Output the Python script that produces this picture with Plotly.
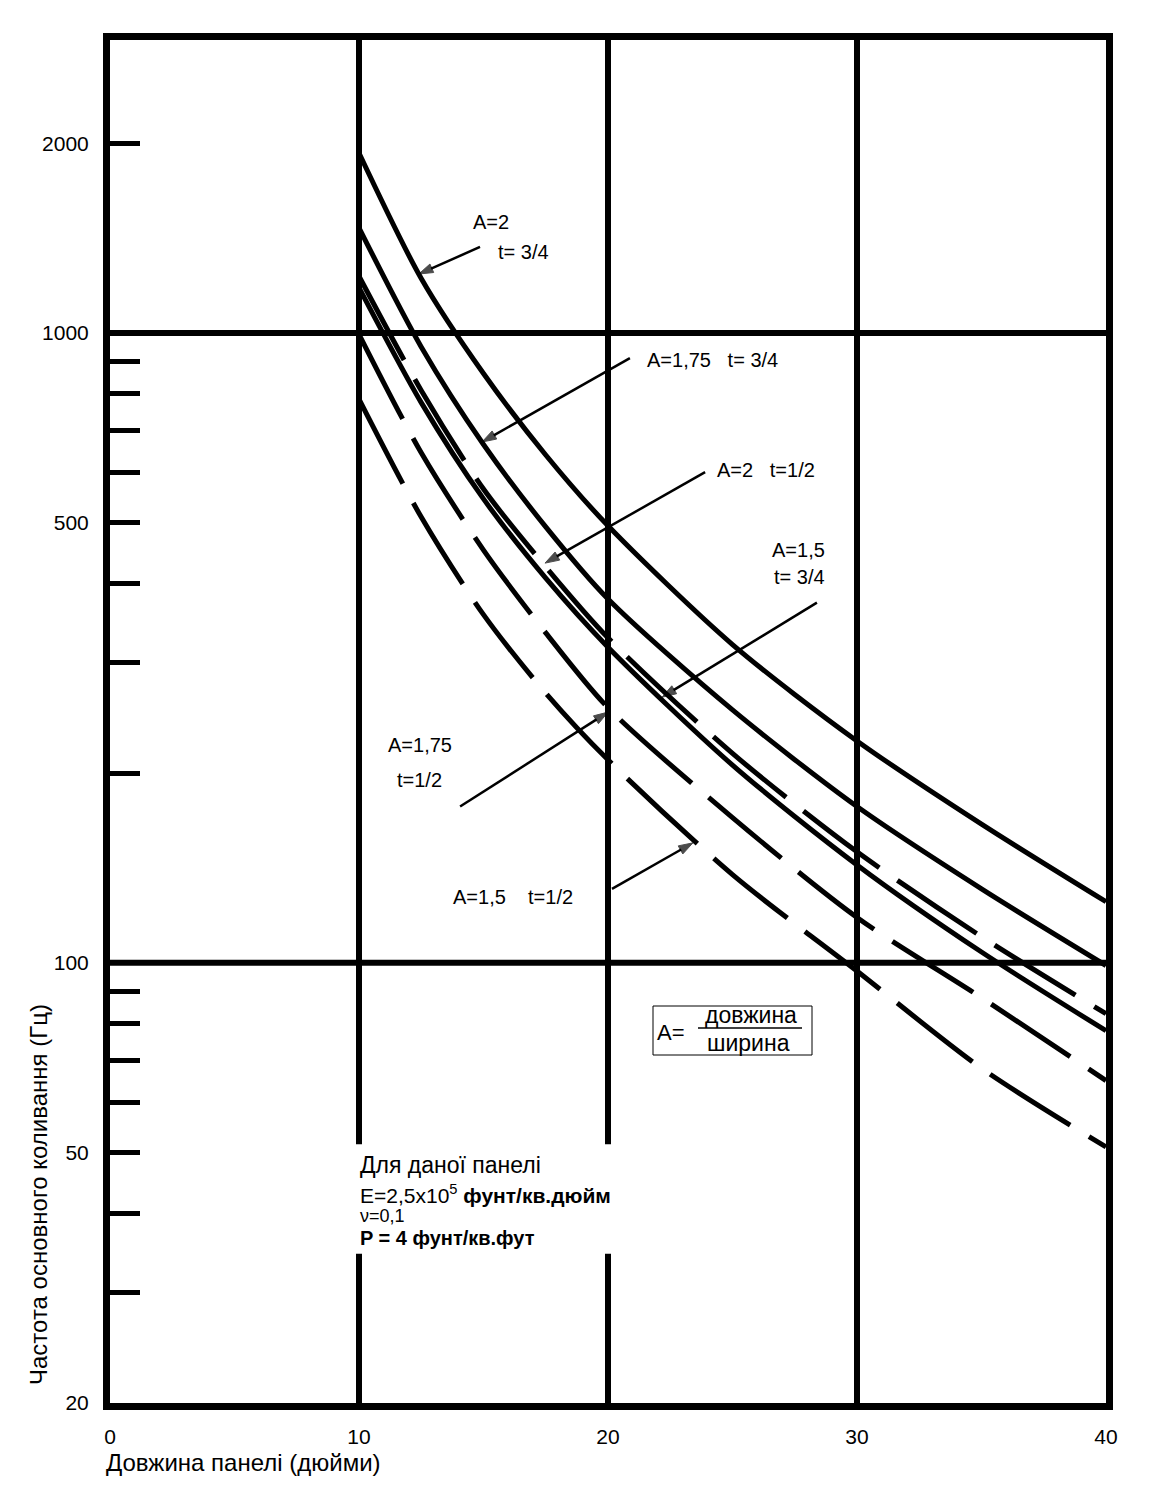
import math
import plotly.graph_objects as go

# Panel length (inches) at which each curve is read
panel_length = [10, 12.5, 15, 17.5, 20, 25, 30, 35, 40]

# Fundamental frequency (Hz) for each aspect ratio A and thickness t
freq_a2_t34 = [1930, 1220, 862, 640, 494, 320, 225, 166, 125]
freq_a175_t34 = [1468, 950, 665, 492, 378, 252, 177, 131, 99]
freq_a2_t12 = [1230, 810, 565, 425, 328, 215, 150, 110, 83]
freq_a15_t34 = [1180, 775, 545, 408, 317, 206, 143, 104, 78]
freq_a175_t12 = [995, 645, 452, 334, 254, 170, 118, 88, 65]
freq_a15_t12 = [785, 510, 357, 268, 210, 138, 97, 68, 51]

x_ticks = [0, 10, 20, 30, 40]
y_ticks = [20, 50, 100, 500, 1000, 2000]
y_minor_ticks = [30, 40, 60, 70, 80, 90, 200, 300, 400, 600, 700, 800, 900]

Y_TOP_LOG = 3.465
y_top = 10 ** Y_TOP_LOG
FONT = "Liberation Sans, Arial, Helvetica, sans-serif"

fig = go.Figure()

# Heavy grid: verticals at 10/20/30 (10 and 20 broken around the note), horizontals at 100/1000
grid_w = 6
gap_lo, gap_hi = 34.5, 51.5
for gx in (10, 20):
    fig.add_trace(go.Scatter(x=[gx, gx, None, gx, gx], y=[20, gap_lo, None, gap_hi, y_top],
                             mode="lines", line=dict(color="black", width=grid_w),
                             hoverinfo="skip"))
fig.add_trace(go.Scatter(x=[30, 30], y=[20, y_top], mode="lines",
                         line=dict(color="black", width=grid_w), hoverinfo="skip"))
for gy in (100, 1000):
    fig.add_trace(go.Scatter(x=[0, 40], y=[gy, gy], mode="lines",
                             line=dict(color="black", width=grid_w), hoverinfo="skip"))

# Frequency curves: solid for t=3/4, dashed for t=1/2
curves = [
    ("A=2, t=3/4", freq_a2_t34, "solid"),
    ("A=1,75, t=3/4", freq_a175_t34, "solid"),
    ("A=2, t=1/2", freq_a2_t12, "95px,22px"),
    ("A=1,5, t=3/4", freq_a15_t34, "solid"),
    ("A=1,75, t=1/2", freq_a175_t12, "95px,22px"),
    ("A=1,5, t=1/2", freq_a15_t12, "95px,22px"),
]
for name, vals, dash in curves:
    fig.add_trace(go.Scatter(x=panel_length, y=vals, name=name, mode="lines",
                             line=dict(color="black", width=5, dash=dash,
                                       shape="spline", smoothing=0.8)))

NB = "\u00a0"
# Curve labels: text lines as (text, x, y), then leader tail and leader tip
curve_labels = [
    ([("A=2", 14.5, 1500), ("t=" + NB + "3/4", 15.5, 1346)], (14.86, 1369), (12.4, 1240)),
    ([("A=1,75" + NB * 3 + "t=" + NB + "3/4", 21.5, 906)], (20.88, 912), (14.94, 671)),
    ([("A=2" + NB * 3 + "t=1/2", 24.3, 606)], (23.9, 601), (17.47, 431)),
    ([("A=1,5", 26.5, 452), ("t=" + NB + "3/4", 26.6, 410)], (28.39, 373), (22.17, 264)),
    ([("A=1,75", 11.1, 222), ("t=1/2", 11.45, 195)], (14.06, 177), (20.0, 250)),
    ([("A=1,5" + NB * 4 + "t=1/2", 13.7, 127)], (20.16, 131), (23.41, 155)),
]
for lines, tail, tip in curve_labels:
    for txt, tx, ty in lines:
        fig.add_annotation(x=tx, y=math.log10(ty), xref="x", yref="y", text=txt,
                           showarrow=False, xanchor="left", yanchor="middle",
                           font=dict(size=20, family=FONT, color="black"))
    # leader line from the label to its curve, with a small arrow head at the curve
    fig.add_trace(go.Scatter(x=[tail[0], tip[0]], y=[tail[1], tip[1]], mode="lines+markers",
                             line=dict(color="black", width=2.5),
                             marker=dict(symbol="arrow", angleref="previous",
                                         size=[0, 15], color="black",
                                         line=dict(color="black", width=1)),
                             hoverinfo="skip"))

# Ratio definition box
def px(xp):
    return (xp - 110) / 996


def py(yp):
    return (1403 - yp) / 1363


fig.add_shape(type="rect", xref="paper", yref="paper",
              x0=px(653), x1=px(812), y0=py(1055), y1=py(1006),
              line=dict(color="black", width=1), fillcolor="white")
fig.add_shape(type="line", xref="paper", yref="paper",
              x0=px(698), x1=px(802), y0=py(1028), y1=py(1028),
              line=dict(color="black", width=1.5))
fig.add_annotation(x=px(671), y=py(1032), xref="paper", yref="paper", text="A=",
                   showarrow=False, xanchor="center", yanchor="middle",
                   font=dict(size=22, family=FONT, color="black"))
fig.add_annotation(x=px(751), y=py(1015), xref="paper", yref="paper", text="довжина",
                   showarrow=False, xanchor="center", yanchor="middle",
                   font=dict(size=23, family=FONT, color="black"))
fig.add_annotation(x=px(748), y=py(1043), xref="paper", yref="paper", text="ширина",
                   showarrow=False, xanchor="center", yanchor="middle",
                   font=dict(size=23, family=FONT, color="black"))

# Panel parameters note
note_lines = [
    ("Для даної панелі", 1165, 23),
    ("E=2,5x10<sup>5</sup> <b>фунт/кв.дюйм</b>", 1194, 21),
    ("\u03bd=0,1", 1216, 18),
    ("<b>P = 4 фунт/кв.фут</b>", 1238, 20),
]
for txt, yp, size in note_lines:
    fig.add_annotation(x=px(358), y=py(yp), xref="paper", yref="paper", text=txt,
                       showarrow=False, xanchor="left", yanchor="middle",
                       font=dict(size=size, family=FONT, color="black"))

# Axis titles
fig.add_annotation(x=px(38), y=py(1195), xref="paper", yref="paper",
                   text="Частота основного коливання (Гц)", textangle=-90,
                   showarrow=False, xanchor="center", yanchor="middle",
                   font=dict(size=24, family=FONT, color="black"))
fig.add_annotation(x=px(104), y=py(1462), xref="paper", yref="paper",
                   text="Довжина панелі (дюйми)",
                   showarrow=False, xanchor="left", yanchor="middle",
                   font=dict(size=24, family=FONT, color="black"))

fig.update_xaxes(range=[0, 40], tickvals=x_ticks, ticktext=[str(v) for v in x_ticks],
                 showgrid=False, zeroline=False, showline=True, linewidth=7,
                 linecolor="black", mirror=True, ticks="",
                 tickfont=dict(size=21, family=FONT, color="black"),
                 ticklabelstandoff=9)
fig.update_yaxes(type="log", range=[math.log10(20), Y_TOP_LOG],
                 tickvals=y_ticks, ticktext=[str(v) for v in y_ticks],
                 ticks="inside", ticklen=30, tickwidth=5, tickcolor="black",
                 showgrid=False, zeroline=False, showline=True, linewidth=7,
                 linecolor="black", mirror=True,
                 tickfont=dict(size=21, family=FONT, color="black"),
                 ticklabelstandoff=10,
                 minor=dict(tickvals=y_minor_ticks, ticks="inside", ticklen=30,
                            tickwidth=5, tickcolor="black", showgrid=False))

fig.update_layout(width=1159, height=1500,
                  margin=dict(l=110, r=53, t=40, b=97),
                  paper_bgcolor="white", plot_bgcolor="white",
                  showlegend=False,
                  font=dict(family=FONT, color="black"))

fig.write_html("out.html", config={"displayModeBar": False})
